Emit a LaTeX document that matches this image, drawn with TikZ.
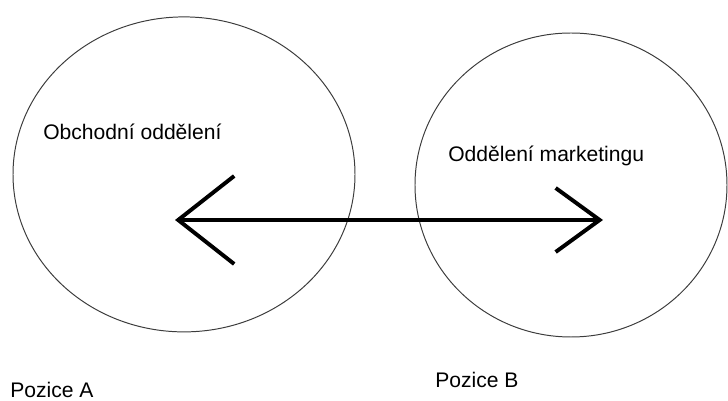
\documentclass[tikz,border=0pt]{standalone}
\usepackage{fontspec}
\setmainfont{Liberation Sans}
\usetikzlibrary{arrows.meta,shapes.geometric}
\definecolor{rimGray}{RGB}{60,60,60}
\tikzset{
  dept/.style={ellipse, draw=rimGray, line width=0.7pt, inner sep=0pt},
  deptname/.style={anchor=base west, inner sep=0pt, font=\fontsize{15}{18}\selectfont},
  link/.style={{Straight Barb[length=1.4cm, width=2.2cm]}-{Straight Barb[length=1.1cm, width=1.6cm]},
               line width=2.8pt, draw=black}
}
\begin{document}
\begin{tikzpicture}
\useasboundingbox (0,0) rectangle (18.2,-10.025);
\node[dept, minimum width=8.55cm, minimum height=7.875cm] (sales) at (4.6,-4.36) {};
\node[dept, minimum width=7.8cm, minimum height=7.6cm] (mkt) at (14.275,-4.625) {};
\node[deptname] (salesName) at (1.075,-3.5) {Obchodní oddělení};
\node[deptname] (mktName) at (11.2,-4.05) {Oddělení marketingu};
\node[deptname] (posA) at (0.25,-9.95) {Pozice A};
\node[deptname] (posB) at (10.875,-9.7) {Pozice B};
\coordinate (endA) at (4.375,-5.5);
\coordinate (endB) at (15.075,-5.5);
\draw[link] (endA) -- (endB);
\end{tikzpicture}
\end{document}
